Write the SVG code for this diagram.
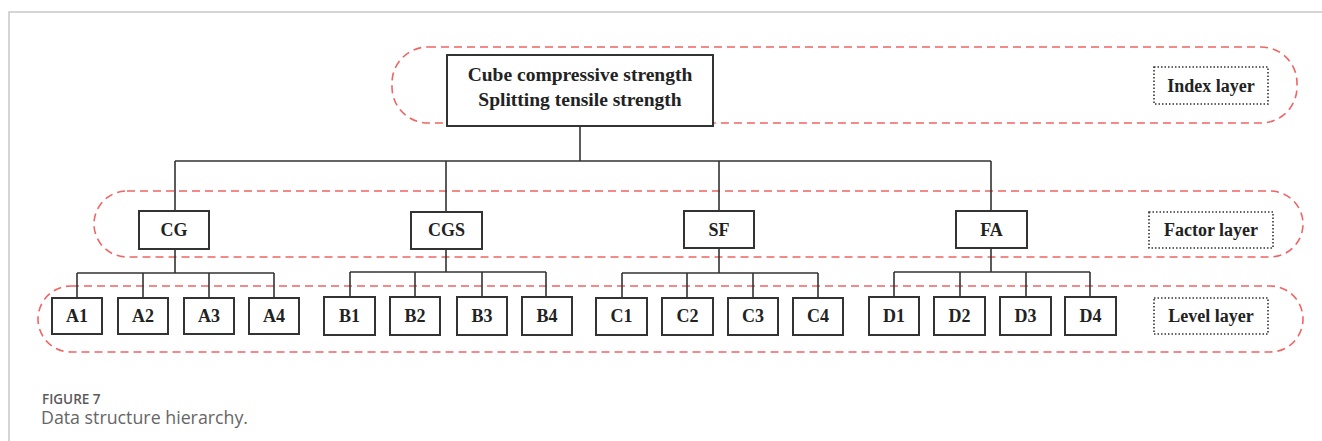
<svg xmlns="http://www.w3.org/2000/svg" width="1322" height="441" viewBox="0 0 1322 441">
<style>
.layer{fill:none;stroke:#f06464;stroke-width:1.6;stroke-dasharray:8 5}
.box{fill:#fff;stroke:#333;stroke-width:2}
.lbl{fill:none;stroke:#333;stroke-width:1.6;stroke-dasharray:1.5 2}
.t{font-family:"Liberation Serif","Times New Roman",serif;font-weight:bold;font-size:18px;fill:#222;text-anchor:middle}
.c{fill:none;stroke:#333;stroke-width:1.6}
.cap1{font-family:"Open Sans","Liberation Sans",sans-serif;font-weight:600;font-size:13.5px;fill:#5a5a5a}
.cap2{font-family:"Open Sans","Liberation Sans",sans-serif;font-size:17.8px;fill:#666}
</style>
<rect width="1322" height="441" fill="#fff"/>
<path d="M9 441V12H1322" fill="none" stroke="#c8c8c8" stroke-width="1.5"/>
<g id="layers">
<rect class="layer" x="392" y="47" width="905" height="76" rx="36"/>
<rect class="layer" x="94" y="191" width="1209" height="66" rx="33"/>
<rect class="layer" x="38" y="286" width="1265" height="66" rx="33"/>
</g>
<g id="connectors">
<path class="c" d="M580 126V161M175 161H991M175 161V211M446 161V212M719 161V211M991 161V211"/>
<path class="c" d="M175 249V273M77 273H274M77 273V298M143 273V298M209 273V298M274 273V298"/>
<path class="c" d="M446 249V272M350 272H546M350 272V297M415 272V297M482 272V297M546 272V297"/>
<path class="c" d="M719 248V273M622 273H818M622 273V298M687 273V298M753 273V298M818 273V298"/>
<path class="c" d="M991 248V272M894 272H1090M894 272V297M960 272V297M1026 272V297M1090 272V297"/>
</g>
<g id="index"><rect class="box" x="447" y="55" width="266" height="71"/>
<text class="t" style="font-size:19.5px" x="580" y="81">Cube compressive strength</text>
<text class="t" style="font-size:19.5px" x="580" y="106">Splitting tensile strength</text></g>
<g id="CG"><rect class="box" x="139" y="211" width="70" height="38"/><text class="t" x="174" y="236">CG</text></g>
<g id="CGS"><rect class="box" x="411" y="212" width="71" height="37"/><text class="t" x="446.5" y="236">CGS</text></g>
<g id="SF"><rect class="box" x="684" y="211" width="70" height="37"/><text class="t" x="719" y="236">SF</text></g>
<g id="FA"><rect class="box" x="956" y="211" width="71" height="37"/><text class="t" x="991.5" y="236">FA</text></g>
<g id="A1"><rect class="box" x="52" y="298" width="50" height="36"/><text class="t" x="77" y="322">A1</text></g>
<g id="A2"><rect class="box" x="118" y="298" width="50" height="36"/><text class="t" x="143" y="322">A2</text></g>
<g id="A3"><rect class="box" x="184" y="298" width="50" height="36"/><text class="t" x="209" y="322">A3</text></g>
<g id="A4"><rect class="box" x="249" y="298" width="50" height="36"/><text class="t" x="274" y="322">A4</text></g>
<g id="B1"><rect class="box" x="324" y="297" width="51" height="38"/><text class="t" x="349.5" y="322">B1</text></g>
<g id="B2"><rect class="box" x="390" y="297" width="50" height="38"/><text class="t" x="415" y="322">B2</text></g>
<g id="B3"><rect class="box" x="457" y="297" width="50" height="38"/><text class="t" x="482" y="322">B3</text></g>
<g id="B4"><rect class="box" x="522" y="297" width="50" height="38"/><text class="t" x="547" y="322">B4</text></g>
<g id="C1"><rect class="box" x="596" y="298" width="51" height="37"/><text class="t" x="621.5" y="322">C1</text></g>
<g id="C2"><rect class="box" x="662" y="298" width="51" height="37"/><text class="t" x="687.5" y="322">C2</text></g>
<g id="C3"><rect class="box" x="728" y="298" width="50" height="37"/><text class="t" x="753" y="322">C3</text></g>
<g id="C4"><rect class="box" x="793" y="298" width="50" height="37"/><text class="t" x="818" y="322">C4</text></g>
<g id="D1"><rect class="box" x="869" y="297" width="50" height="38"/><text class="t" x="894" y="322">D1</text></g>
<g id="D2"><rect class="box" x="934" y="297" width="51" height="38"/><text class="t" x="959.5" y="322">D2</text></g>
<g id="D3"><rect class="box" x="1000" y="297" width="51" height="38"/><text class="t" x="1025.5" y="322">D3</text></g>
<g id="D4"><rect class="box" x="1065" y="297" width="51" height="38"/><text class="t" x="1090.5" y="322">D4</text></g>
<g id="indexLabel"><rect class="lbl" x="1154" y="67" width="114" height="37"/><text class="t" x="1211" y="92">Index layer</text></g>
<g id="factorLabel"><rect class="lbl" x="1149" y="212" width="124" height="36"/><text class="t" x="1211" y="236">Factor layer</text></g>
<g id="levelLabel"><rect class="lbl" x="1154" y="298" width="114" height="36"/><text class="t" x="1211" y="322">Level layer</text></g>
<g id="caption">
<text class="cap1" x="42" y="404">FIGURE 7</text>
<text class="cap2" x="41" y="424">Data structure hierarchy.</text>
</g>
</svg>
